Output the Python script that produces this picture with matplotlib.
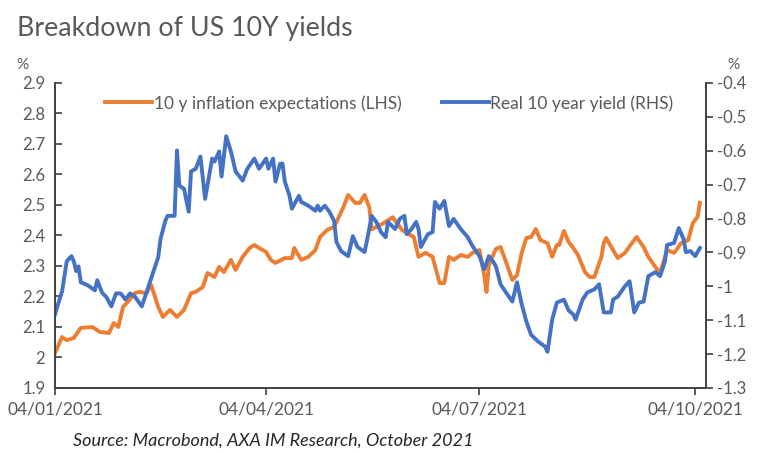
import matplotlib.pyplot as plt
import matplotlib.dates as mdates
import pandas as pd

# 10y inflation expectations (LHS, %)
infl_dates = ['2021-01-04', '2021-01-07', '2021-01-09', '2021-01-12', '2021-01-15', '2021-01-20',
              '2021-01-23', '2021-01-27', '2021-01-29', '2021-01-31', '2021-02-02', '2021-02-04',
              '2021-02-07', '2021-02-09', '2021-02-12', '2021-02-14', '2021-02-17', '2021-02-19',
              '2021-02-22', '2021-02-25', '2021-02-28', '2021-03-03', '2021-03-05', '2021-03-08',
              '2021-03-10', '2021-03-13', '2021-03-15', '2021-03-17', '2021-03-20', '2021-03-22',
              '2021-03-25', '2021-03-28', '2021-03-30', '2021-04-01', '2021-04-04', '2021-04-06',
              '2021-04-08', '2021-04-12', '2021-04-15', '2021-04-16', '2021-04-19', '2021-04-22',
              '2021-04-25', '2021-04-27', '2021-04-30', '2021-05-03', '2021-05-07', '2021-05-09',
              '2021-05-12', '2021-05-14', '2021-05-16', '2021-05-18', '2021-05-19', '2021-05-21',
              '2021-05-24', '2021-05-28', '2021-06-01', '2021-06-03', '2021-06-06', '2021-06-08',
              '2021-06-11', '2021-06-14', '2021-06-17', '2021-06-19', '2021-06-21', '2021-06-23',
              '2021-06-26', '2021-06-29', '2021-07-01', '2021-07-04', '2021-07-06', '2021-07-07',
              '2021-07-08', '2021-07-11', '2021-07-13', '2021-07-15', '2021-07-18', '2021-07-20',
              '2021-07-22', '2021-07-24', '2021-07-26', '2021-07-28', '2021-07-30', '2021-08-02',
              '2021-08-04', '2021-08-06', '2021-08-07', '2021-08-09', '2021-08-11', '2021-08-13',
              '2021-08-15', '2021-08-18', '2021-08-20', '2021-08-22', '2021-08-25', '2021-08-26',
              '2021-08-27', '2021-08-30', '2021-09-01', '2021-09-04', '2021-09-07', '2021-09-09',
              '2021-09-12', '2021-09-14', '2021-09-17', '2021-09-19', '2021-09-22', '2021-09-25',
              '2021-09-28', '2021-10-01', '2021-10-03', '2021-10-05', '2021-10-06']
infl_values = [2.015, 2.067, 2.057, 2.064, 2.097, 2.100, 2.084, 2.080, 2.113, 2.100, 2.166, 2.182,
               2.211, 2.215, 2.211, 2.238, 2.166, 2.133, 2.156, 2.133, 2.156, 2.211, 2.215, 2.231,
               2.277, 2.264, 2.297, 2.280, 2.320, 2.287, 2.330, 2.359, 2.369, 2.359, 2.346, 2.320,
               2.310, 2.326, 2.326, 2.359, 2.320, 2.330, 2.352, 2.395, 2.418, 2.428, 2.493, 2.533,
               2.507, 2.507, 2.533, 2.493, 2.420, 2.428, 2.440, 2.460, 2.418, 2.408, 2.395, 2.330,
               2.343, 2.330, 2.244, 2.244, 2.330, 2.320, 2.336, 2.330, 2.343, 2.352, 2.270, 2.215,
               2.303, 2.356, 2.362, 2.320, 2.254, 2.270, 2.343, 2.392, 2.395, 2.421, 2.385, 2.375,
               2.330, 2.369, 2.369, 2.415, 2.379, 2.359, 2.336, 2.280, 2.264, 2.264, 2.330, 2.375,
               2.392, 2.352, 2.326, 2.343, 2.375, 2.395, 2.362, 2.330, 2.297, 2.277, 2.352, 2.343,
               2.375, 2.385, 2.441, 2.461, 2.507]

# Real 10 year yield (RHS, %)
real_dates = ['2021-01-04', '2021-01-05', '2021-01-07', '2021-01-09', '2021-01-11', '2021-01-12',
              '2021-01-13', '2021-01-14', '2021-01-15', '2021-01-18', '2021-01-21', '2021-01-22',
              '2021-01-24', '2021-01-26', '2021-01-28', '2021-01-30', '2021-02-01', '2021-02-03',
              '2021-02-05', '2021-02-07', '2021-02-10', '2021-02-12', '2021-02-15', '2021-02-17',
              '2021-02-18', '2021-02-20', '2021-02-21', '2021-02-24', '2021-02-25', '2021-02-26',
              '2021-02-28', '2021-03-02', '2021-03-03', '2021-03-05', '2021-03-07', '2021-03-09',
              '2021-03-12', '2021-03-13', '2021-03-15', '2021-03-16', '2021-03-18', '2021-03-20',
              '2021-03-22', '2021-03-25', '2021-03-27', '2021-03-30', '2021-04-01', '2021-04-04',
              '2021-04-05', '2021-04-07', '2021-04-08', '2021-04-10', '2021-04-11', '2021-04-12',
              '2021-04-14', '2021-04-15', '2021-04-18', '2021-04-19', '2021-04-22', '2021-04-25',
              '2021-04-26', '2021-04-27', '2021-04-29', '2021-05-01', '2021-05-03', '2021-05-04',
              '2021-05-06', '2021-05-09', '2021-05-11', '2021-05-13', '2021-05-16', '2021-05-18',
              '2021-05-19', '2021-05-21', '2021-05-23', '2021-05-25', '2021-05-26', '2021-05-29',
              '2021-05-31', '2021-06-02', '2021-06-03', '2021-06-05', '2021-06-07', '2021-06-08',
              '2021-06-09', '2021-06-12', '2021-06-14', '2021-06-15', '2021-06-17', '2021-06-19',
              '2021-06-21', '2021-06-23', '2021-06-26', '2021-06-29', '2021-07-01', '2021-07-04',
              '2021-07-06', '2021-07-08', '2021-07-10', '2021-07-11', '2021-07-13', '2021-07-15',
              '2021-07-18', '2021-07-20', '2021-07-22', '2021-07-24', '2021-07-26', '2021-07-29',
              '2021-08-01', '2021-08-02', '2021-08-04', '2021-08-06', '2021-08-09', '2021-08-11',
              '2021-08-13', '2021-08-14', '2021-08-17', '2021-08-19', '2021-08-22', '2021-08-24',
              '2021-08-26', '2021-08-29', '2021-08-30', '2021-09-01', '2021-09-04', '2021-09-06',
              '2021-09-08', '2021-09-10', '2021-09-12', '2021-09-14', '2021-09-17', '2021-09-19',
              '2021-09-21', '2021-09-22', '2021-09-25', '2021-09-27', '2021-09-29', '2021-09-30',
              '2021-10-02', '2021-10-04', '2021-10-06']
real_values = [-1.083, -1.059, -1.015, -0.926, -0.911, -0.926, -0.955, -0.941, -0.988, -0.997,
               -1.012, -0.982, -1.018, -1.033, -1.059, -1.021, -1.021, -1.039, -1.021, -1.030,
               -1.059, -1.018, -0.955, -0.914, -0.860, -0.807, -0.792, -0.792, -0.599, -0.703,
               -0.712, -0.780, -0.661, -0.653, -0.617, -0.742, -0.623, -0.632, -0.602, -0.676,
               -0.557, -0.602, -0.661, -0.688, -0.653, -0.623, -0.653, -0.623, -0.653, -0.623,
               -0.691, -0.638, -0.638, -0.691, -0.733, -0.771, -0.733, -0.751, -0.762, -0.777,
               -0.762, -0.777, -0.762, -0.780, -0.807, -0.869, -0.896, -0.911, -0.852, -0.884,
               -0.899, -0.831, -0.792, -0.810, -0.840, -0.855, -0.810, -0.831, -0.801, -0.792,
               -0.846, -0.831, -0.810, -0.831, -0.884, -0.846, -0.840, -0.751, -0.771, -0.748,
               -0.822, -0.801, -0.831, -0.855, -0.881, -0.911, -0.950, -0.911, -0.929, -0.941,
               -0.994, -1.015, -1.045, -0.988, -1.053, -1.104, -1.143, -1.163, -1.178, -1.193,
               -1.098, -1.048, -1.039, -1.071, -1.083, -1.098, -1.039, -1.018, -1.009, -0.994,
               -1.077, -1.077, -1.039, -1.030, -1.000, -0.985, -1.077, -1.048, -1.045, -0.970,
               -0.958, -0.970, -0.929, -0.878, -0.872, -0.828, -0.860, -0.899, -0.896, -0.911,
               -0.887]

tick_dates = ['2021-01-04', '2021-04-04', '2021-07-04', '2021-10-04']

ORANGE = '#ED7D31'
BLUE = '#4472C4'
GREY = '#595959'

plt.rcParams['font.family'] = ['Lato', 'DejaVu Sans']

fig = plt.figure(figsize=(7.58, 4.53), dpi=100)
ax = fig.add_axes([0.0726, 0.1435, 0.8585, 0.6733])
ax2 = ax.twinx()

ax.plot(pd.to_datetime(infl_dates), infl_values, color=ORANGE, lw=2.8,
        label='10 y inflation expectations (LHS)', solid_joinstyle='round')
ax2.plot(pd.to_datetime(real_dates), real_values, color=BLUE, lw=2.8,
         label='Real 10 year yield (RHS)', solid_joinstyle='round')

ax.set_xlim(pd.Timestamp('2021-01-04'), pd.Timestamp('2021-10-08 12:00'))
ax.set_ylim(1.9, 2.9)
ax2.set_ylim(-1.3, -0.4)
ax.set_yticks([1.9 + 0.1 * i for i in range(11)])
ax2.set_yticks([-1.3 + 0.1 * i for i in range(10)])
ax.yaxis.set_major_formatter(plt.FuncFormatter(lambda v, p: '{:g}'.format(round(v, 1))))
ax2.yaxis.set_major_formatter(plt.FuncFormatter(lambda v, p: '{:g}'.format(round(v, 1))))
ax.set_xticks(pd.to_datetime(tick_dates))
ax.xaxis.set_major_formatter(mdates.DateFormatter('%d/%m/%Y'))

for a in (ax, ax2):
    a.spines['top'].set_visible(False)
    for s in ('left', 'right', 'bottom'):
        a.spines[s].set_color('#404040')
        a.spines[s].set_linewidth(1.2)
ax.tick_params(axis='y', direction='in', length=5, width=1.2, color='#404040',
               labelsize=12, labelcolor=GREY, pad=7)
ax.tick_params(axis='x', direction='out', length=5, width=1.2, color='#404040',
               labelsize=12.5, labelcolor=GREY, pad=5)
ax2.tick_params(axis='y', direction='out', length=5, width=1.2, color='#404040',
                labelsize=12, labelcolor=GREY, pad=3)

fig.text(0.029, 0.857, '%', fontsize=11, color=GREY, ha='center', va='center')
fig.text(0.967, 0.857, '%', fontsize=11, color=GREY, ha='center', va='center')

fig.text(0.022, 0.938, 'Breakdown of US 10Y yields', fontsize=19.3, color=GREY,
         ha='left', va='center')
fig.text(0.096, 0.028, 'Source: Macrobond, AXA IM Research, October 2021', fontsize=13,
         style='italic', color='#262626', ha='left', va='center')

h1, l1 = ax.get_legend_handles_labels()
h2, l2 = ax2.get_legend_handles_labels()
leg = ax2.legend(h1 + h2, l1 + l2, loc='upper center', bbox_to_anchor=(0.514, 1.012),
                 ncol=2, frameon=False, fontsize=12.5, handlelength=2.7,
                 handletextpad=0.1, columnspacing=2.3, labelcolor=GREY)

fig.savefig('out.png', dpi=100)
